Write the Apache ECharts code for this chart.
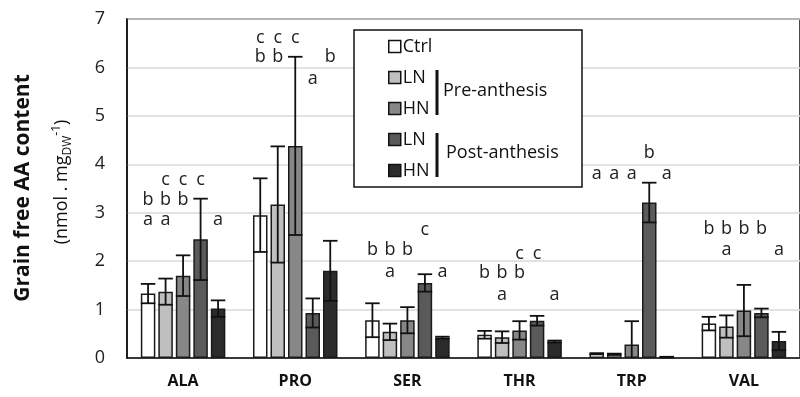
<!DOCTYPE html>
<html>
<head>
<meta charset="utf-8">
<script src="https://cdn.jsdelivr.net/npm/echarts@6/dist/echarts.min.js"></script>
<style>
  html, body { margin: 0; padding: 0; background: #fff; }
  #main { width: 800px; height: 397px; }
</style>
</head>
<body>
<div id="main"></div>
<script>
// amino acids
const categories = ["ALA", "PRO", "SER", "THR", "TRP", "VAL"];

// means and error (+/-) per treatment
const ctrlMeans = [1.33, 2.95, 0.78, 0.48, 0.09, 0.71];
const ctrlErr = [0.2, 0.76, 0.35, 0.08, 0.01, 0.14];
const lnPreMeans = [1.37, 3.17, 0.54, 0.43, 0.08, 0.65];
const lnPreErr = [0.27, 1.2, 0.17, 0.12, 0.01, 0.23];
const hnPreMeans = [1.7, 4.38, 0.78, 0.57, 0.28, 0.98];
const hnPreErr = [0.42, 1.84, 0.27, 0.19, 0.48, 0.53];
const lnPostMeans = [2.45, 0.93, 1.55, 0.77, 3.21, 0.93];
const lnPostErr = [0.84, 0.3, 0.18, 0.1, 0.41, 0.09];
const hnPostMeans = [1.02, 1.8, 0.42, 0.34, 0.02, 0.35];
const hnPostErr = [0.17, 0.62, 0.02, 0.02, 0.005, 0.19];

// significance letters per treatment
const ctrlLetters = ["ab", "bc", "b", "b", "a", "b"];
const lnPreLetters = ["abc", "bc", "ab", "ab", "a", "ab"];
const hnPreLetters = ["bc", "c", "b", "bc", "a", "b"];
const lnPostLetters = ["c", "a", "c", "c", "b", "b"];
const hnPostLetters = ["a", "b", "a", "a", "a", "a"];

// height (axis value) of each letter row per amino acid
const rowA = [2.85, 5.77, 1.78, 1.3, 3.81, 2.23];
const rowB = [3.26, 6.21, 2.23, 1.75, 4.23, 2.66];
const rowC = [3.67, 6.62, 2.64, 2.14, 4.64, 3.08];

const yTicks = [0, 1, 2, 3, 4, 5, 6, 7];

const seriesNames = ["Ctrl", "LN pre", "HN pre", "LN post", "HN post"];
const seriesColors = ["#ffffff", "#bfbfbf", "#878787", "#5a5a5a", "#2b2b2b"];
const means = [ctrlMeans, lnPreMeans, hnPreMeans, lnPostMeans, hnPostMeans];
const errs = [ctrlErr, lnPreErr, hnPreErr, lnPostErr, hnPostErr];
const letters = [ctrlLetters, lnPreLetters, hnPreLetters, lnPostLetters, hnPostLetters];

const BAR_W = 14.5;
const BAR_STEP = 17.5;
const FONT = "Open Sans";

const chart = echarts.init(document.getElementById("main"));

// error bar data: [cat, series, mean, err]
const errData = [];
means.forEach((arr, s) => {
  arr.forEach((v, c) => errData.push([c, s, v, errs[s][c]]));
});

// letter marks
const rows = { a: rowA, b: rowB, c: rowC };
const letterMarks = [];
letters.forEach((arr, s) => {
  arr.forEach((str, c) => {
    str.split("").forEach((ch) => letterMarks.push({ c: c, s: s, y: rows[ch][c], t: ch }));
  });
});

const barSeries = seriesNames.map((name, s) => ({
  name: name,
  type: "bar",
  barWidth: BAR_W,
  barGap: "20.7%",
  data: means[s],
  itemStyle: {
    color: seriesColors[s],
    borderColor: "#1a1a1a",
    borderWidth: 1.5,
  },
  z: 2,
}));

const option = {
  animation: false,
  backgroundColor: "#fff",
  grid: {
    left: 127,
    top: 19,
    width: 681,
    height: 339,
    show: true,
    borderColor: "#111",
    borderWidth: 1.5,
  },
  legend: {
    orient: "vertical",
    left: 383,
    top: 29,
    itemWidth: 12,
    itemHeight: 12,
    itemGap: 6,
    icon: "rect",
    data: seriesNames,
    formatter: (n) => n.split(" ")[0],
    textStyle: { fontFamily: FONT, fontSize: 18, color: "#111", lineHeight: 25, padding: [0, 0, 0, -3] },
    itemStyle: { borderColor: "#111", borderWidth: 1.5 },
    z: 10,
  },
  xAxis: {
    type: "category",
    data: categories,
    axisTick: { show: false },
    axisLine: { lineStyle: { color: "#111", width: 1.5 } },
    axisLabel: { fontFamily: FONT, fontWeight: "bold", fontSize: 16, color: "#111", margin: 15 },
  },
  yAxis: {
    type: "value",
    min: 0,
    max: 7,
    interval: 1,
    axisLine: { show: true, lineStyle: { color: "#111", width: 1.5 } },
    axisTick: { show: false },
    axisLabel: {
      fontFamily: FONT,
      fontSize: 18,
      color: "#222",
      margin: 22,
      formatter: (v) => (yTicks.indexOf(v) >= 0 ? String(v) : ""),
    },
    splitLine: { lineStyle: { color: "#d9d9d9", width: 1.5 } },
  },
  series: barSeries.concat([
    {
      type: "custom",
      name: "err",
      data: errData,
      encode: { x: 0, y: 2 },
      z: 5,
      renderItem: (params, api) => {
        const c = api.value(0);
        const s = api.value(1);
        const m = api.value(2);
        const e = api.value(3);
        const dx = (s - 2) * BAR_STEP;
        const top = api.coord([c, m + e]);
        const lowV = m - e;
        const bot = api.coord([c, Math.max(0, lowV)]);
        const x = top[0] + dx;
        const hw = BAR_W / 2;
        const st = { stroke: "#111", lineWidth: 1.8 };
        const kids = [
          { type: "line", shape: { x1: x, y1: top[1], x2: x, y2: bot[1] }, style: st },
          { type: "line", shape: { x1: x - hw, y1: top[1], x2: x + hw, y2: top[1] }, style: st },
        ];
        if (lowV > 0) {
          kids.push({ type: "line", shape: { x1: x - hw, y1: bot[1], x2: x + hw, y2: bot[1] }, style: st });
        }
        return { type: "group", children: kids };
      },
    },
    {
      type: "custom",
      name: "letters",
      data: letterMarks.map((d) => [d.c, d.y]),
      encode: { x: 0, y: 1 },
      z: 6,
      renderItem: (params, api) => {
        const d = letterMarks[params.dataIndex];
        const p = api.coord([d.c, d.y]);
        return {
          type: "text",
          x: p[0] + (d.s - 2) * BAR_STEP,
          y: p[1],
          style: {
            text: d.t,
            fontFamily: FONT,
            fontSize: 18,
            fill: "#222",
            align: "center",
            verticalAlign: "middle",
          },
        };
      },
    },
  ]),
  graphic: [
    {
      type: "rect",
      shape: { x: 354, y: 30, width: 228, height: 157 },
      style: { fill: "#fff", stroke: "#111", lineWidth: 1.5 },
      z: 3,
    },
    { type: "line", shape: { x1: 437, y1: 70, x2: 437, y2: 115 }, style: { stroke: "#111", lineWidth: 3 }, z: 10 },
    { type: "line", shape: { x1: 437, y1: 133, x2: 437, y2: 177 }, style: { stroke: "#111", lineWidth: 3 }, z: 10 },
    {
      type: "text",
      x: 443,
      y: 91,
      z: 10,
      style: { text: "Pre-anthesis", fontFamily: FONT, fontSize: 18, fill: "#111", verticalAlign: "middle" },
    },
    {
      type: "text",
      x: 446,
      y: 153,
      z: 10,
      style: { text: "Post-anthesis", fontFamily: FONT, fontSize: 18, fill: "#111", verticalAlign: "middle" },
    },
    {
      type: "text",
      x: 23,
      y: 188,
      rotation: Math.PI / 2,
      style: {
        text: "Grain free AA content",
        fontFamily: FONT,
        fontWeight: "bold",
        fontSize: 21,
        fill: "#111",
        align: "center",
        verticalAlign: "middle",
      },
    },
    {
      type: "text",
      x: 62,
      y: 182,
      rotation: Math.PI / 2,
      style: {
        text: "{n|(nmol . mg}{sub|DW}{sup|-1}{n|)}",
        fontFamily: FONT,
        fontSize: 18,
        fill: "#111",
        align: "center",
        verticalAlign: "middle",
        rich: {
          n: { fontSize: 18, fontFamily: FONT, fill: "#111", lineHeight: 24 },
          sub: { fontSize: 12, fontFamily: FONT, fill: "#111", lineHeight: 12, padding: [12, 0, 0, 0] },
          sup: { fontSize: 12, fontFamily: FONT, fill: "#111", lineHeight: 12, padding: [0, 0, 10, 0] },
        },
      },
    },
  ],
};

chart.setOption(option);
</script>
</body>
</html>
